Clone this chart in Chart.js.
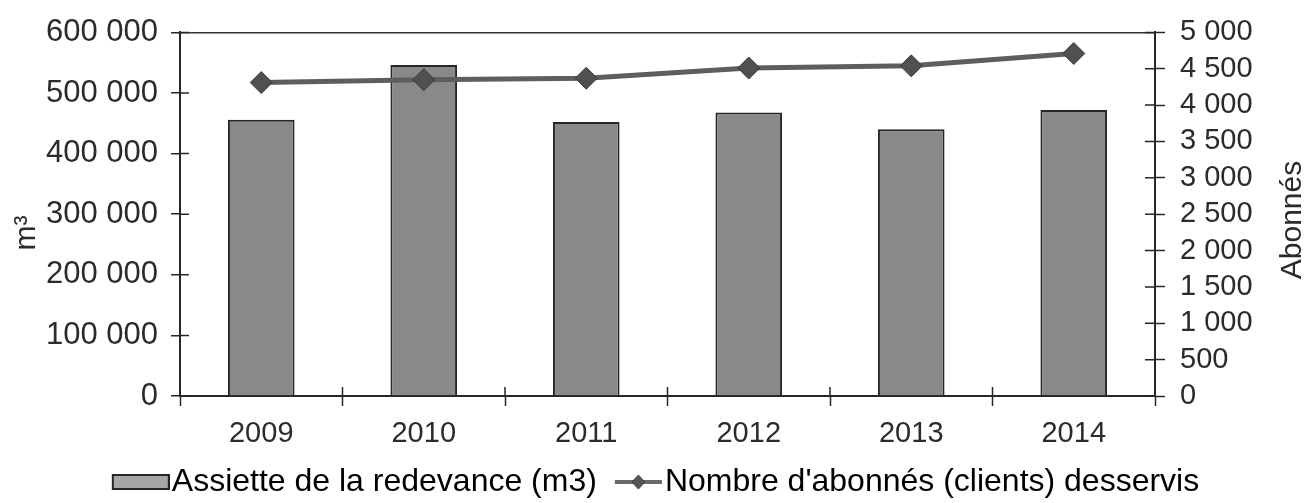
<!DOCTYPE html>
<html lang="fr">
<head>
<meta charset="utf-8">
<title>Assiette de la redevance et abonnés</title>
<script src="https://cdn.jsdelivr.net/npm/chart.js@4.4.1/dist/chart.umd.min.js"></script>
<style>
  html, body { margin: 0; padding: 0; background: #fff; }
  #wrap { position: relative; width: 1311px; height: 503px; }
</style>
</head>
<body>
<div id="wrap"><canvas id="myChart"></canvas></div>
<script>
const years = ['2009', '2010', '2011', '2012', '2013', '2014'];
const assiette = [456000, 546000, 452000, 468000, 440000, 472000];
const abonnes = [4310, 4350, 4370, 4510, 4540, 4710];
const leftTicks = [0, 100000, 200000, 300000, 400000, 500000, 600000];
const rightTicks = [0, 500, 1000, 1500, 2000, 2500, 3000, 3500, 4000, 4500, 5000];
const leftTitle = 'm³';
const rightTitle = 'Abonnés';
const barLabel = 'Assiette de la redevance (m3)';
const lineLabel = "Nombre d'abonnés (clients) desservis";

const ink = '#262626';
const fontFamily = '"Liberation Sans", Arial, sans-serif';
Chart.defaults.font.family = fontFamily;
Chart.defaults.color = '#2b2b2b';

// espace comme séparateur de milliers
const fmt = v => String(v).replace(/\B(?=(\d{3})+(?!\d))/g, ' ');

// petites images pour la légende
function barSwatch() {
  const c = document.createElement('canvas');
  c.width = 72; c.height = 20;
  const g = c.getContext('2d');
  g.fillStyle = '#a6a6a6';
  g.fillRect(15, 3, 56, 14);
  g.strokeStyle = ink; g.lineWidth = 2;
  g.strokeRect(15, 3, 56, 14);
  return c;
}
function lineSwatch() {
  const c = document.createElement('canvas');
  c.width = 72; c.height = 24;
  const g = c.getContext('2d');
  g.strokeStyle = '#6a6a6a'; g.lineWidth = 4;
  g.beginPath(); g.moveTo(24, 12); g.lineTo(71, 12); g.stroke();
  g.fillStyle = '#555'; g.strokeStyle = '#3a3a3a'; g.lineWidth = 1;
  g.beginPath();
  g.moveTo(47.5, 5); g.lineTo(54, 12); g.lineTo(47.5, 19); g.lineTo(41, 12);
  g.closePath(); g.fill(); g.stroke();
  return c;
}

// petits traits de graduation qui traversent les axes
const innerTicks = {
  id: 'innerTicks',
  afterDatasetsDraw(chart) {
    const {ctx, chartArea, scales} = chart;
    ctx.save();
    ctx.strokeStyle = ink;
    ctx.lineWidth = 1.5;
    ctx.beginPath();
    scales.y.ticks.forEach((t, i) => {
      const y = scales.y.getPixelForTick(i);
      ctx.moveTo(chartArea.left, y); ctx.lineTo(chartArea.left + 9, y);
    });
    scales.y2.ticks.forEach((t, i) => {
      const y = scales.y2.getPixelForTick(i);
      ctx.moveTo(chartArea.right - 10, y); ctx.lineTo(chartArea.right, y);
    });
    for (let i = 0; i <= years.length; i++) {
      const x = scales.x.getPixelForValue(i - 0.5);
      ctx.moveTo(x, chartArea.bottom); ctx.lineTo(x, chartArea.bottom - 9);
    }
    ctx.stroke();
    ctx.restore();
  }
};

// titres des axes, lus de bas en haut des deux côtés
const axisTitles = {
  id: 'axisTitles',
  afterDraw(chart) {
    const {ctx} = chart;
    ctx.save();
    ctx.fillStyle = '#2b2b2b';
    ctx.font = '30px ' + fontFamily;
    ctx.textAlign = 'center';
    ctx.textBaseline = 'middle';
    [[27, 233, leftTitle], [1293, 220, rightTitle]].forEach(([x, y, t]) => {
      ctx.save();
      ctx.translate(x, y);
      ctx.rotate(-Math.PI / 2);
      ctx.fillText(t, 0, 0);
      ctx.restore();
    });
    ctx.restore();
  }
};

const ctx = document.getElementById('myChart');

new Chart(ctx, {
  data: {
    labels: years,
    datasets: [{
      type: 'line',
      label: lineLabel,
      data: abonnes,
      yAxisID: 'y2',
      borderColor: '#5e5e5e',
      borderWidth: 5,
      pointStyle: 'rectRot',
      pointRadius: 11,
      pointBackgroundColor: '#505050',
      pointBorderColor: '#3a3a3a',
      pointBorderWidth: 1,
      tension: 0
    }, {
      type: 'bar',
      label: barLabel,
      data: assiette,
      yAxisID: 'y',
      backgroundColor: '#898989',
      borderColor: ink,
      borderWidth: 2,
      categoryPercentage: 1,
      barPercentage: 0.41
    }]
  },
  options: {
    responsive: true,
    maintainAspectRatio: false,
    animation: false,
    layout: { padding: { top: 30, left: 0, right: 0, bottom: -5 } },
    plugins: {
      tooltip: { enabled: false },
      legend: {
        position: 'bottom',
        labels: {
          usePointStyle: true,
          pointStyleWidth: 44,
          padding: 8,
          color: '#2b2b2b',
          font: { size: 32 },
          generateLabels: () => [
            { text: barLabel, pointStyle: barSwatch(), datasetIndex: 1, fillStyle: '#a6a6a6', strokeStyle: ink, lineWidth: 0 },
            { text: lineLabel, pointStyle: lineSwatch(), datasetIndex: 0, fillStyle: '#555', strokeStyle: '#555', lineWidth: 0 }
          ]
        }
      }
    },
    scales: {
      x: {
        offset: true,
        grid: { offset: true, drawOnChartArea: false, tickLength: 10, tickColor: ink, tickWidth: 1.5 },
        border: { color: ink, width: 2 },
        ticks: { font: { size: 29 }, padding: 11, color: '#2b2b2b' },
        afterFit: s => { s.height = 62; }
      },
      y: {
        position: 'left',
        min: 0,
        max: 600000,
        afterBuildTicks: s => { s.ticks = leftTicks.map(v => ({ value: v })); },
        grid: {
          color: c => (c.tick && c.tick.value === 600000 ? '#333' : 'rgba(0,0,0,0)'),
          lineWidth: 1.5,
          tickLength: 9,
          tickColor: ink,
          tickWidth: 1.5
        },
        border: { color: ink, width: 2 },
        ticks: { font: { size: 31 }, padding: 13, autoSkip: false, color: '#2b2b2b', callback: v => fmt(v) },
        afterFit: s => { s.width = 180; }
      },
      y2: {
        position: 'right',
        min: 0,
        max: 5000,
        afterBuildTicks: s => { s.ticks = rightTicks.map(v => ({ value: v })); },
        grid: { drawOnChartArea: false, tickLength: 10, tickColor: ink, tickWidth: 1.5 },
        border: { color: ink, width: 2 },
        ticks: { font: { size: 29 }, padding: 15, autoSkip: false, color: '#2b2b2b', callback: v => fmt(v) },
        afterFit: s => { s.width = 156; }
      }
    }
  },
  plugins: [innerTicks, axisTitles]
});
</script>
</body>
</html>
